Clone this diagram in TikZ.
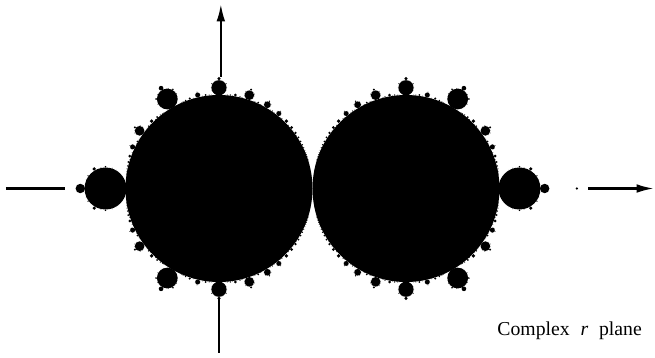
\documentclass[tikz,border=0pt]{standalone}
\usepackage{fontspec}
\setmainfont{Liberation Serif}
\usepackage{tikz}
\usetikzlibrary{arrows.meta}
\tikzset{
  mset/.style={fill=black, draw=none},
  axisline/.style={draw=black, line width=1pt},
  planelabel/.style={inner sep=0pt, font=\fontsize{9}{11}\selectfont}
}
% sub-bulbs sitting on a primary bulb (centre \cx,\cy, radius \rb, root angle \ang+180)
\newcommand{\subbulbs}{%
  \foreach \s in {2,...,7}{%
    \pgfmathtruncatemacro\sm{\s-1}%
    \foreach \t in {1,...,\sm}{%
      \pgfmathtruncatemacro\gs{gcd(\t,\s)}%
      \ifnum\gs=1
        \pgfmathsetmacro\rs{0.9*\rb*sin(180*\t/\s)/(\s*\s)}%
        \pgfmathsetmacro\as{\ang+180+360*\t/\s}%
        \fill[mset] ({\cx+(\rb+0.9*\rs)*cos(\as)},{\cy+(\rb+0.9*\rs)*sin(\as)}) circle (\rs);
      \fi}}}
% one disk of the set with its bulbs
\newcommand{\halfset}{%
  \fill[mset] (0,0) circle (1);
  \foreach \q in {2,...,22}{%
    \pgfmathtruncatemacro\qm{\q-1}%
    \foreach \p in {1,...,\qm}{%
      \pgfmathtruncatemacro\g{gcd(\p,\q)}%
      \ifnum\g=1
        \pgfmathsetmacro\rb{\q==2 ? 0.2245 : (\q==3 ? 0.111 : 1.3/(\q*\q))}%
        \pgfmathsetmacro\ang{360*\p/\q}%
        \pgfmathsetmacro\cx{(1+0.95*\rb)*cos(\ang)}%
        \pgfmathsetmacro\cy{(1+0.95*\rb)*sin(\ang)}%
        \fill[mset] (\cx,\cy) circle (\rb);
        \ifnum\q<8 \subbulbs\fi
      \fi}}
  \fill[mset] (-1.828,0) circle (0.014);
}
\begin{document}
\begin{tikzpicture}[x=1.5cm,y=1.5cm,>={Latex[length=2.8mm,width=1.4mm]}]
  \useasboundingbox (-2.342,-1.802) rectangle (4.663,2.016);
  % the set: left disk and its mirror image about r=1
  \halfset
  \begin{scope}[shift={(2,0)},xscale=-1]
    \halfset
  \end{scope}
  % axes
  \coordinate (ytop) at (0.02,1.973);
  \coordinate (ytopend) at (0.02,1.193);
  \coordinate (ybot) at (0,-1.171);
  \coordinate (ybotend) at (0,-1.759);
  \coordinate (xleft) at (-2.278,0);
  \coordinate (xleftend) at (-1.647,0);
  \coordinate (xright) at (3.947,0);
  \coordinate (xrightend) at (4.652,0);
  \draw[axisline,->] (ytopend) -- (ytop);
  \draw[axisline] (ybot) -- (ybotend);
  \draw[axisline] (xleft) -- (xleftend);
  \draw[axisline,->] (xright) -- (xrightend);
  \node[planelabel,anchor=base west] (plane) at (2.973,-1.567)
    {Complex\hspace{0.55em}\textit{r}\hspace{0.55em}plane};
\end{tikzpicture}
\end{document}
